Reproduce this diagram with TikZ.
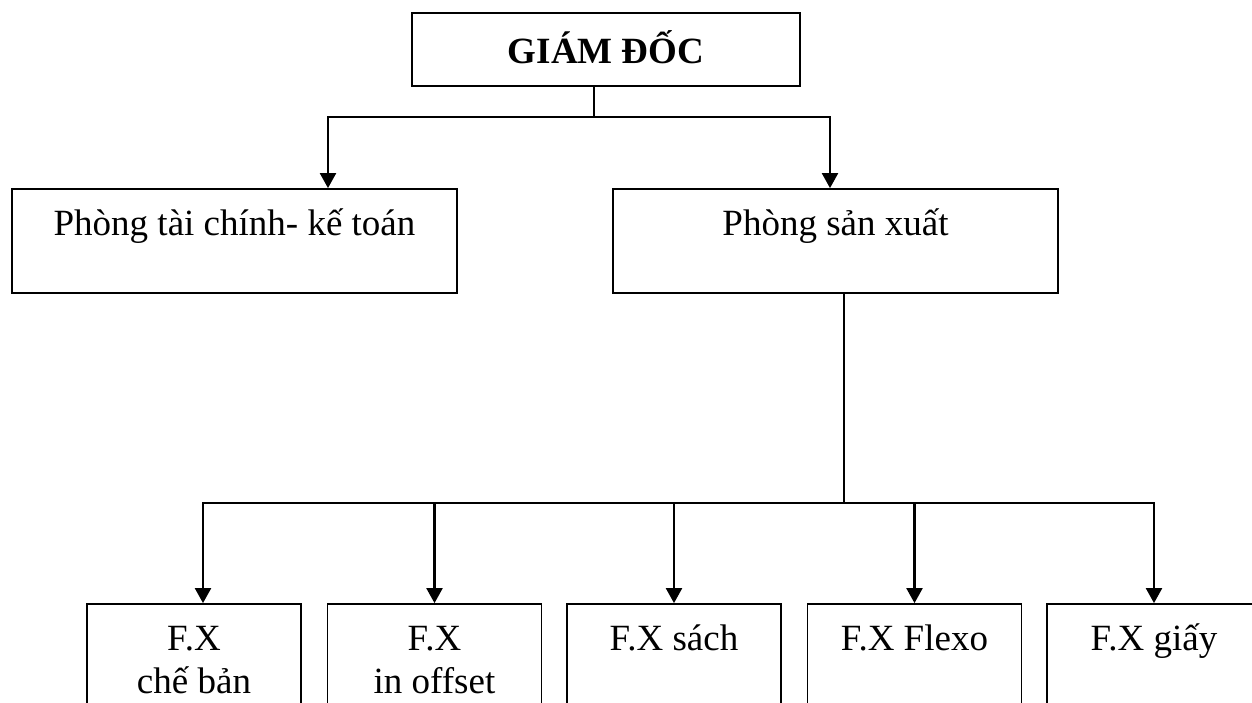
\documentclass[tikz,border=0pt]{standalone}
\usepackage{fontspec}
\setmainfont{Liberation Serif}
\usetikzlibrary{arrows.meta,calc}
\begin{document}
\begin{tikzpicture}[x=1pt,y=-1pt,
  box/.style={draw,line width=1.8pt,inner sep=0pt},
  txt/.style={anchor=base,inner sep=0pt,font=\fontsize{37}{43}\selectfont},
  conn/.style={line width=2.2pt},
  arr/.style={conn,-{Triangle[width=16pt,length=15pt]}}]
\useasboundingbox (0,0) rectangle (1252,702);
\fill[white] (0,0) rectangle (1252,702);
\clip (0,0) rectangle (1252,702);
% boxes
\node[box,minimum width=388pt,minimum height=73pt] (gd) at (606,49.5) {};
\node[box,minimum width=445pt,minimum height=104pt] (ptc) at (234.5,241) {};
\node[box,minimum width=445pt,minimum height=104pt] (psx) at (835.5,241) {};
\node[box,minimum width=214pt,minimum height=126pt] (fx1) at (194,667) {};
\node[box,minimum width=214pt,minimum height=126pt] (fx2) at (434.5,667) {};
\node[box,minimum width=214pt,minimum height=126pt] (fx3) at (674,667) {};
\node[box,minimum width=214pt,minimum height=126pt] (fx4) at (914.5,667) {};
\node[box,minimum width=214pt,minimum height=126pt] (fx5) at (1154,667) {};
% texts
\node[txt,font=\fontsize{37}{43}\selectfont\bfseries] (tgd) at (606,63) {GIÁM ĐỐC};
\node[txt] (tptc) at (234.5,235) {Phòng tài chính- kế toán};
\node[txt] (tpsx) at (835.5,235) {Phòng sản xuất};
\node[txt] (tfx1a) at (194,650) {F.X};
\node[txt] (tfx1b) at (194,693) {chế bản};
\node[txt] (tfx2a) at (434.5,650) {F.X};
\node[txt] (tfx2b) at (434.5,693) {in offset};
\node[txt] (tfx3) at (674,650) {F.X sách};
\node[txt] (tfx4) at (914.5,650) {F.X Flexo};
\node[txt] (tfx5) at (1154,650) {F.X giấy};
% connectors
\coordinate (j1) at (594,117);
\coordinate (a1) at (328,189);
\coordinate (a2) at (830,189);
\draw[conn] (gd.south -| j1) -- (j1);
\draw[arr] (j1) -| (a1 |- ptc.north);
\draw[arr] (j1) -| (a2 |- psx.north);
\coordinate (j2) at (844,503);
\coordinate (b1) at (203,604);
\draw[conn] (psx.south -| j2) -- (j2);
\draw[arr] (j2) -| (b1 |- fx1.north);
\draw[arr] (j2) -| (fx2.north);
\draw[arr] (j2) -| (fx3.north);
\draw[arr] (j2) -| (fx4.north);
\draw[arr] (j2) -| (fx5.north);
\end{tikzpicture}
\end{document}
